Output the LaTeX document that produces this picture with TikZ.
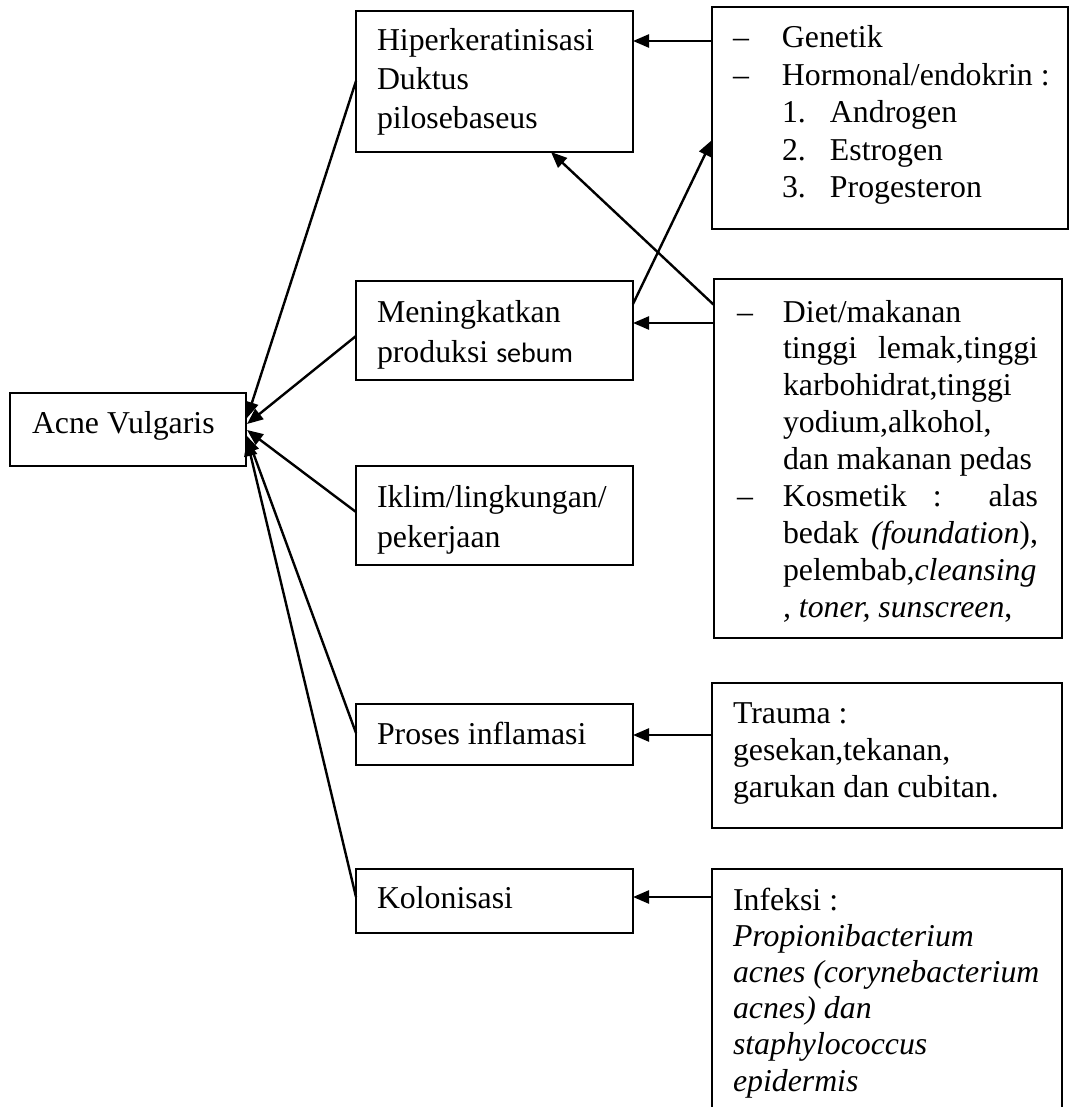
\documentclass[tikz,border=0pt]{standalone}
\usepackage{fontspec}
\setmainfont{Liberation Serif}
\newfontfamily\calib{Carlito}
\usetikzlibrary{arrows.meta}
\newcommand{\stk}[1]{\begin{tabular}[t]{@{}l@{}}#1\end{tabular}}
\newcommand{\dsh}[1]{\llap{\makebox[#1][l]{--}}}
\begin{document}
\begin{tikzpicture}[x=1pt,y=-1pt,
  frame/.style={draw, line width=1.7pt, inner sep=0pt, outer sep=0pt, anchor=north west},
  txt/.style={inner sep=0pt, outer sep=0pt, anchor=base west},
  conn/.style={line width=2.4pt, -{Triangle[length=16pt,width=13pt]}}]
\useasboundingbox (0,0) rectangle (1070,1107);
\clip (0,0) rectangle (1070,1107);
% frames
\node[frame, minimum width=236pt, minimum height=73pt] (acne) at (10,393) {};
\node[frame, minimum width=277pt, minimum height=141pt] (hiper) at (356,11) {};
\node[frame, minimum width=277pt, minimum height=99pt] (men) at (356,281) {};
\node[frame, minimum width=277pt, minimum height=99pt] (iklim) at (356,466) {};
\node[frame, minimum width=277pt, minimum height=61pt] (proses) at (356,704) {};
\node[frame, minimum width=277pt, minimum height=64pt] (kolon) at (356,869) {};
\node[frame, minimum width=356pt, minimum height=222pt] (gen) at (712,7) {};
\node[frame, minimum width=348pt, minimum height=359pt] (diet) at (714,279) {};
\node[frame, minimum width=350pt, minimum height=145pt] (trauma) at (712,683) {};
\node[frame, minimum width=350pt, minimum height=270pt] (infeksi) at (712,869) {};
% texts
\node[txt, font=\fontsize{31.8}{38.8}\selectfont] (tacne) at (32,433) {Acne Vulgaris};
\node[txt, font=\fontsize{31.8}{38.8}\selectfont] (thiper) at (377,51) {\stk{Hiperkeratinisasi\\Duktus\\pilosebaseus}};
\node[txt, font=\fontsize{31.8}{40}\selectfont] (tmen) at (377,322) {\stk{Meningkatkan\\produksi {\calib\fontsize{28}{40}\selectfont sebum}}};
\node[txt, font=\fontsize{31.8}{40}\selectfont] (tiklim) at (377,507) {\stk{Iklim/lingkungan/\\pekerjaan}};
\node[txt, font=\fontsize{31.8}{38}\selectfont] (tproses) at (377,744) {Proses inflamasi};
\node[txt, font=\fontsize{31.8}{38}\selectfont] (tkolon) at (377,908) {Kolonisasi};
\node[txt, font=\fontsize{31.8}{37.5}\selectfont] (tgen) at (782,48) {\stk{\dsh{49pt}Genetik\\
 \dsh{49pt}Hormonal/endokrin :\\
 \makebox[48pt][l]{1.}Androgen\\
 \makebox[48pt][l]{2.}Estrogen\\
 \makebox[48pt][l]{3.}Progesteron}};
\node[txt, font=\fontsize{31.8}{36.9}\selectfont] (tdiet) at (783,322) {\stk{\dsh{46pt}Diet/makanan\\
 \makebox[255pt][s]{tinggi lemak,tinggi}\\
 karbohidrat,tinggi\\
 yodium,alkohol,\\
 dan makanan pedas\\
 \dsh{46pt}\makebox[255pt][s]{Kosmetik : alas}\\
 \makebox[255pt][s]{bedak \textit{(foundation}),}\\
 pelembab,\textit{cleansing}\\
 \textit{, toner, sunscreen},}};
\node[txt, font=\fontsize{31.8}{37}\selectfont] (ttrauma) at (733,723) {\stk{Trauma :\\gesekan,tekanan,\\garukan dan cubitan.}};
\node[txt, font=\fontsize{31.8}{36.2}\selectfont] (tinfeksi) at (733,910) {\stk{Infeksi :\\
 \textit{Propionibacterium}\\
 \textit{acnes (corynebacterium}\\
 \textit{acnes) dan}\\
 \textit{staphylococcus}\\
 \textit{epidermis}}};
% connectors
\draw[conn] (gen.west |- 0,41) -- (hiper.east |- 0,41);
\draw[conn] (diet.west |- 0,323) -- (men.east |- 0,323);
\draw[conn] (diet.west |- 0,305) -- (hiper.south -| 551,0);
\draw[conn] (men.east |- 0,304) -- (gen.west |- 0,140);
\draw[conn] (trauma.west |- 0,735) -- (proses.east |- 0,735);
\draw[conn] (infeksi.west |- 0,897) -- (kolon.east |- 0,897);
\draw[conn] (hiper.west |- 0,81) -- ([xshift=1pt]acne.east |- 0,418);
\draw[conn] (men.west |- 0,336) -- ([xshift=1pt]acne.east |- 0,424);
\draw[conn] (iklim.west |- 0,512) -- ([xshift=1pt]acne.east |- 0,430);
\draw[conn] (proses.west |- 0,733) -- ([xshift=1pt]acne.east |- 0,436);
\draw[conn] (kolon.west |- 0,897) -- ([xshift=1pt]acne.east |- 0,440);
\end{tikzpicture}
\end{document}
